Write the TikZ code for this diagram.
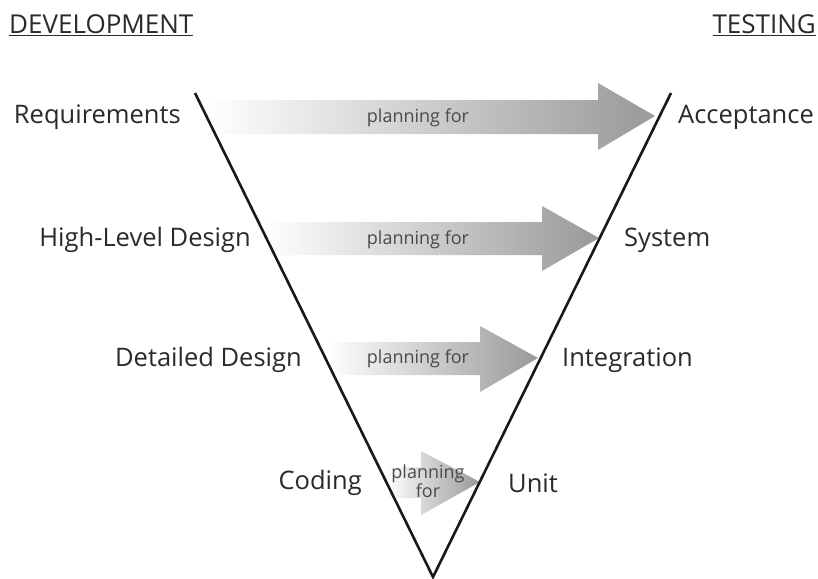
\documentclass[tikz,border=0pt]{standalone}
\usepackage{fontspec}
\setmainfont{Open Sans}
\definecolor{txt}{HTML}{2A2A2A}
\definecolor{arr}{HTML}{999999}
\tikzset{
  lbl/.style={text=txt,font=\fontsize{25.5}{30}\selectfont,inner sep=0pt},
  hdr/.style={text=txt,font=\fontsize{26}{30}\selectfont,inner sep=0pt},
  small/.style={text=txt!85,font=\fontsize{18}{20}\selectfont,inner sep=0pt,align=center},
  vline/.style={line width=2.6pt,black!90},
  parrow/.style={left color=white,right color=arr,draw=none}
}
\begin{document}
\begin{tikzpicture}[x=1pt,y=-1pt]
\useasboundingbox (0,0) rectangle (818,578);
\fill[white] (0,0) rectangle (818,578);
% arrows
\shade[parrow] (206,100) -- (598,100) -- (598,83) -- (655,116) -- (598,150) -- (598,134) -- (206,134) -- cycle;
\shade[parrow] (265,222) -- (542,222) -- (542,206) -- (599,238) -- (542,271) -- (542,255) -- (265,255) -- cycle;
\shade[parrow] (326,342) -- (480,342) -- (480,326) -- (538,358) -- (480,392) -- (480,375) -- (326,375) -- cycle;
\shade[parrow] (386,467) -- (421,467) -- (421,451) -- (480,482) -- (421,515) -- (421,498) -- (386,498) -- cycle;
\node[small] (p1) at (418,118) {planning for};
\node[small] (p2) at (418,240) {planning for};
\node[small] (p3) at (418,359) {planning for};
\node[small,font=\fontsize{18}{19}\selectfont] (p4) at (428,481) {planning\\for};
% V lines
\coordinate (lt) at (195,93);
\coordinate (rt) at (671,93);
\coordinate (bot) at (433,577);
\draw[vline] (lt) -- (bot) -- (rt);
% headers
\node[hdr,anchor=west] (dev) at (9,25) {\underline{DEVELOPMENT}};
\node[hdr,anchor=east] (test) at (816,25) {\underline{TESTING}};
% left labels
\node[lbl,anchor=east] (req) at (181,117) {Requirements};
\node[lbl,anchor=east] (hld) at (251,240) {High-Level Design};
\node[lbl,anchor=east] (dd) at (302,360) {Detailed Design};
\node[lbl,anchor=east] (cod) at (362,483) {Coding};
% right labels
\node[lbl,anchor=west] (acc) at (678,117) {Acceptance};
\node[lbl,anchor=west] (sys) at (624,240) {System};
\node[lbl,anchor=west] (int) at (562,360) {Integration};
\node[lbl,anchor=west] (unit) at (508,483) {Unit};
\end{tikzpicture}
\end{document}
